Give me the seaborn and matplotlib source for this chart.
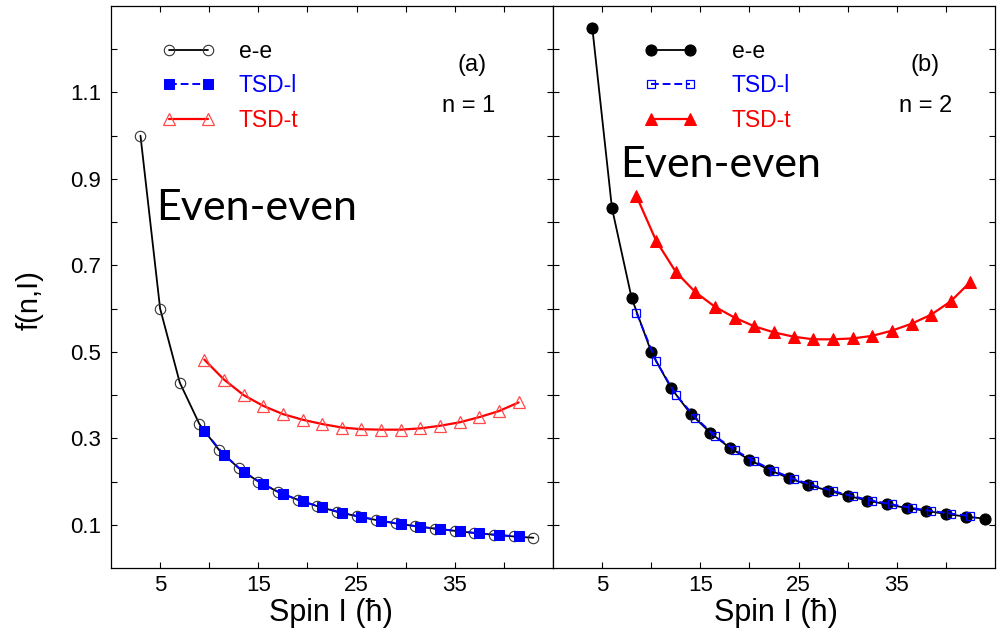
import matplotlib
matplotlib.use("Agg")
import matplotlib.pyplot as plt
import seaborn as sns
from matplotlib.ticker import FixedLocator

sns.set_theme(style="white")
plt.rcParams['font.family'] = ['Liberation Sans', 'DejaVu Sans']
plt.rcParams['text.color'] = 'black'

# ---------------- data: panel (a), n = 1 ----------------
spin_ee_a = [3, 5, 7, 9, 11, 13, 15, 17, 19, 21, 23, 25, 27, 29, 31, 33, 35, 37, 39, 41, 43]
f_ee_a = [1.000, 0.600, 0.429, 0.333, 0.273, 0.231, 0.200, 0.176, 0.158, 0.143, 0.130,
          0.120, 0.111, 0.103, 0.097, 0.091, 0.086, 0.081, 0.077, 0.073, 0.070]
spin_tsd_a = [9.5, 11.5, 13.5, 15.5, 17.5, 19.5, 21.5, 23.5, 25.5, 27.5, 29.5,
              31.5, 33.5, 35.5, 37.5, 39.5, 41.5]
f_tsdl_a = [0.317, 0.262, 0.222, 0.194, 0.171, 0.154, 0.140, 0.128, 0.118, 0.109, 0.102,
            0.095, 0.090, 0.085, 0.080, 0.076, 0.073]
f_tsdt_a = [0.482, 0.436, 0.400, 0.375, 0.356, 0.343, 0.333, 0.325, 0.321, 0.320, 0.320,
            0.323, 0.329, 0.337, 0.349, 0.363, 0.383]

# ---------------- data: panel (b), n = 2 ----------------
spin_ee_b = [4, 6, 8, 10, 12, 14, 16, 18, 20, 22, 24, 26, 28, 30, 32, 34, 36, 38, 40, 42, 44]
f_ee_b = [1.250, 0.833, 0.625, 0.500, 0.417, 0.357, 0.313, 0.278, 0.250, 0.227, 0.208,
          0.192, 0.179, 0.167, 0.156, 0.147, 0.139, 0.132, 0.125, 0.119, 0.114]
spin_tsd_b = [8.5, 10.5, 12.5, 14.5, 16.5, 18.5, 20.5, 22.5, 24.5, 26.5, 28.5, 30.5,
              32.5, 34.5, 36.5, 38.5, 40.5, 42.5]
f_tsdl_b = [0.590, 0.478, 0.401, 0.348, 0.305, 0.273, 0.247, 0.225, 0.206, 0.191, 0.178,
            0.166, 0.156, 0.147, 0.139, 0.132, 0.126, 0.120]
f_tsdt_b = [0.860, 0.757, 0.685, 0.638, 0.604, 0.579, 0.559, 0.545, 0.535, 0.529, 0.529,
            0.531, 0.537, 0.549, 0.565, 0.586, 0.617, 0.662]

x_major = [5, 15, 25, 35]
x_minor = [10, 20, 30, 40]
y_major = [0.1, 0.3, 0.5, 0.7, 0.9, 1.1]
y_minor = [0.2, 0.4, 0.6, 0.8, 1.0, 1.2]

series_labels = ["e-e", "TSD-l", "TSD-t"]
label_colors = ["black", "blue", "red"]

W, H = 997, 636
fig = plt.figure(figsize=(W / 100, H / 100), dpi=100)
ax_a = fig.add_axes([111 / W, 1 - 568 / H, 442 / W, 562 / H])
ax_b = fig.add_axes([553 / W, 1 - 568 / H, 442 / W, 562 / H])

# panel (a)
sns.lineplot(x=spin_ee_a, y=f_ee_a, ax=ax_a, color="black", lw=1.3, marker="o",
             markersize=7.5, markerfacecolor="none", markeredgecolor="#333333",
             markeredgewidth=0.8, sort=False, label=series_labels[0])
sns.lineplot(x=spin_tsd_a, y=f_tsdl_a, ax=ax_a, color="blue", lw=1.4, marker="s",
             markersize=6.5, markerfacecolor="blue", markeredgecolor="blue",
             sort=False, label=series_labels[1])
ax_a.lines[-1].set_linestyle((0, (4, 2)))
sns.lineplot(x=spin_tsd_a, y=f_tsdt_a, ax=ax_a, color="red", lw=1.6, marker="^",
             markersize=8.5, markerfacecolor="none", markeredgecolor="#FF4A4A",
             markeredgewidth=0.9, sort=False, label=series_labels[2])

# panel (b)
sns.lineplot(x=spin_ee_b, y=f_ee_b, ax=ax_b, color="black", lw=1.3, marker="o",
             markersize=8, markerfacecolor="black", markeredgecolor="black",
             sort=False, label=series_labels[0])
sns.lineplot(x=spin_tsd_b, y=f_tsdl_b, ax=ax_b, color="blue", lw=1.4, marker="s",
             markersize=6, markerfacecolor="none", markeredgecolor="blue",
             markeredgewidth=0.9, sort=False, label=series_labels[1])
ax_b.lines[-1].set_linestyle((0, (4, 2)))
sns.lineplot(x=spin_tsd_b, y=f_tsdt_b, ax=ax_b, color="red", lw=1.6, marker="^",
             markersize=8.5, markerfacecolor="red", markeredgecolor="red",
             sort=False, label=series_labels[2])

for ax in (ax_a, ax_b):
    ax.set_xlim(0, 45)
    ax.set_ylim(0.0, 1.3)
    ax.set_xticks(x_major)
    ax.set_yticks(y_major)
    ax.xaxis.set_minor_locator(FixedLocator(x_minor))
    ax.yaxis.set_minor_locator(FixedLocator(y_minor))
    ax.tick_params(which="both", direction="in", top=True, right=True, bottom=True, left=True,
                   length=4, width=0.8, color="black", labelsize=16, labelcolor="black")
    ax.tick_params(axis="x", pad=5)
    ax.tick_params(axis="y", pad=7)
    for sp in ax.spines.values():
        sp.set_color("black")
        sp.set_linewidth(0.9)
    ax.set_xlabel("")
    ax.set_ylabel("")
    ax.grid(False)

ax_b.tick_params(labelleft=False)

# legends
for ax, anchor, tpad in ((ax_a, (0.115, 0.94), 1.05), (ax_b, (0.207, 0.94), 1.5)):
    handles = ax.lines[:3]
    ax.legend(handles, series_labels, loc="upper left", bbox_to_anchor=anchor,
              frameon=False, numpoints=2, handlelength=2.3, handletextpad=tpad,
              labelspacing=0.5, borderpad=0, borderaxespad=0, fontsize=16.5,
              labelcolor=label_colors)

# annotations
def ftext(x, y, s, **kw):
    fig.text(x / W, 1 - y / H, s, **kw)

ftext(472, 65, "(a)", ha="center", va="center", fontsize=17)
ftext(469, 112, "n = 1", ha="center", va="baseline", fontsize=17)
ftext(925, 65, "(b)", ha="center", va="center", fontsize=17)
ftext(926, 112, "n = 2", ha="center", va="baseline", fontsize=17)
ftext(156, 220, "Even-even", ha="left", va="baseline", fontsize=31, family="Lato")
ftext(620, 177, "Even-even", ha="left", va="baseline", fontsize=31, family="Lato")

ftext(30, 300, "f(n,I)", ha="center", va="center", rotation=90, fontsize=21)
ftext(331, 613, "Spin I (ħ)", ha="center", va="center", fontsize=22)
ftext(776, 613, "Spin I (ħ)", ha="center", va="center", fontsize=22)

fig.savefig("out.png", dpi=100)
